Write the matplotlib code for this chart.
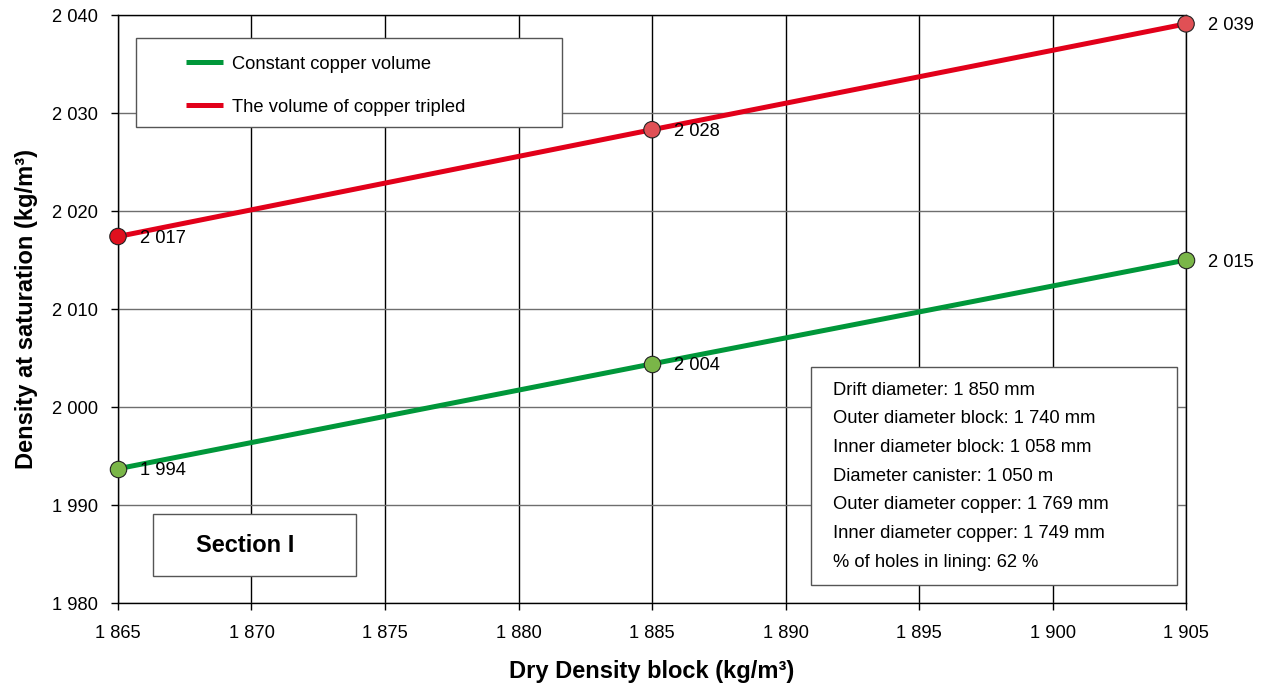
import numpy as np
import matplotlib.pyplot as plt
from matplotlib.patches import Rectangle
from matplotlib.ticker import FuncFormatter

plt.rcParams['font.family'] = ['Liberation Sans', 'DejaVu Sans']

# dry density of the block (kg/m3)
dry_density = [1865, 1885, 1905]
# density at saturation for the two copper cases
sat_constant = [1993.7, 2004.4, 2015.0]
sat_tripled = [2017.4, 2028.3, 2039.1]

series_names = ['Constant copper volume', 'The volume of copper tripled']
info_lines = ['Drift diameter: 1 850 mm',
              'Outer diameter block: 1 740 mm',
              'Inner diameter block: 1 058 mm',
              'Diameter canister: 1 050 m',
              'Outer diameter copper: 1 769 mm',
              'Inner diameter copper: 1 749 mm',
              '% of holes in lining: 62 %']
section_name = 'Section I'


def spaced(v, pos=None):
    return '{:,.0f}'.format(v).replace(',', ' ')


fig = plt.figure(figsize=(12.7, 6.84), dpi=100)
ax = fig.add_axes([0.0929, 0.1184, 0.8410, 0.8596])

green_line = '#00973a'
green_mark = '#7ab648'
red_line = '#e2001a'
red_marks = ['#e0101e', '#e05055', '#e05055']
fs = 13.2

ax.plot(dry_density, sat_constant, color=green_line, lw=3.6, zorder=3,
        label=series_names[0], solid_capstyle='butt')
ax.plot(dry_density, sat_tripled, color=red_line, lw=3.6, zorder=3,
        label=series_names[1], solid_capstyle='butt')
ax.scatter(dry_density, sat_constant, s=140, c=green_mark, edgecolors='#222222',
           linewidths=0.8, zorder=4, clip_on=False)
ax.scatter(dry_density, sat_tripled, s=140, c=red_marks, edgecolors='#222222',
           linewidths=0.8, zorder=4, clip_on=False)

for xs, ys in [(dry_density, sat_constant), (dry_density, sat_tripled)]:
    for x, y in zip(xs, ys):
        ax.annotate(spaced(round(y)), (x, y), xytext=(15.5, -1.5),
                    textcoords='offset points', va='center', ha='left',
                    fontsize=fs, zorder=5, annotation_clip=False)

ax.set_xlim(1865, 1905)
ax.set_ylim(1980, 2040)
ax.set_xticks(np.arange(1865, 1906, 5))
ax.set_yticks(np.arange(1980, 2041, 10))
ax.xaxis.set_major_formatter(FuncFormatter(spaced))
ax.yaxis.set_major_formatter(FuncFormatter(spaced))
ax.tick_params(direction='out', length=5, width=1, labelsize=fs, pad=11)
ax.tick_params(axis='y', pad=9.5)

ax.xaxis.grid(True, color='black', lw=1)
ax.yaxis.grid(True, color='#6e6e6e', lw=1)
ax.set_axisbelow(True)
for side in ['left', 'bottom', 'top', 'right']:
    ax.spines[side].set_color('black')
    ax.spines[side].set_linewidth(1)

ax.set_xlabel('Dry Density block (kg/m³)', fontsize=17, fontweight='bold',
              labelpad=13)
ax.set_ylabel('Density at saturation (kg/m³)', fontsize=17, fontweight='bold',
              labelpad=10)

# legend panel
ax.add_patch(Rectangle((0.0169, 0.8095), 0.3988, 0.1515, transform=ax.transAxes,
                       facecolor='white', edgecolor='#555555', lw=1, zorder=6))
leg = ax.legend(loc='upper left', bbox_to_anchor=(0.0637, 0.931), frameon=False,
                borderpad=0, borderaxespad=0, handlelength=2.0,
                handletextpad=0.5, labelspacing=1.42, fontsize=fs)
leg.set_zorder(7)

# block / canister geometry panel
ax.add_patch(Rectangle((0.6489, 0.0306), 0.3427, 0.3708, transform=ax.transAxes,
                       facecolor='white', edgecolor='#555555', lw=1, zorder=6))
for i, line in enumerate(info_lines):
    ax.text(0.6695, 0.3622 - i * 0.0488, line, transform=ax.transAxes,
            fontsize=fs, va='center', ha='left', zorder=7)

# section tag
ax.add_patch(Rectangle((0.0328, 0.0459), 0.1901, 0.1054, transform=ax.transAxes,
                       facecolor='white', edgecolor='#555555', lw=1, zorder=6))
ax.text(0.1189, 0.0986, section_name, transform=ax.transAxes, fontsize=17,
        fontweight='bold', va='center', ha='center', zorder=7)

fig.savefig('out.png', dpi=100)
